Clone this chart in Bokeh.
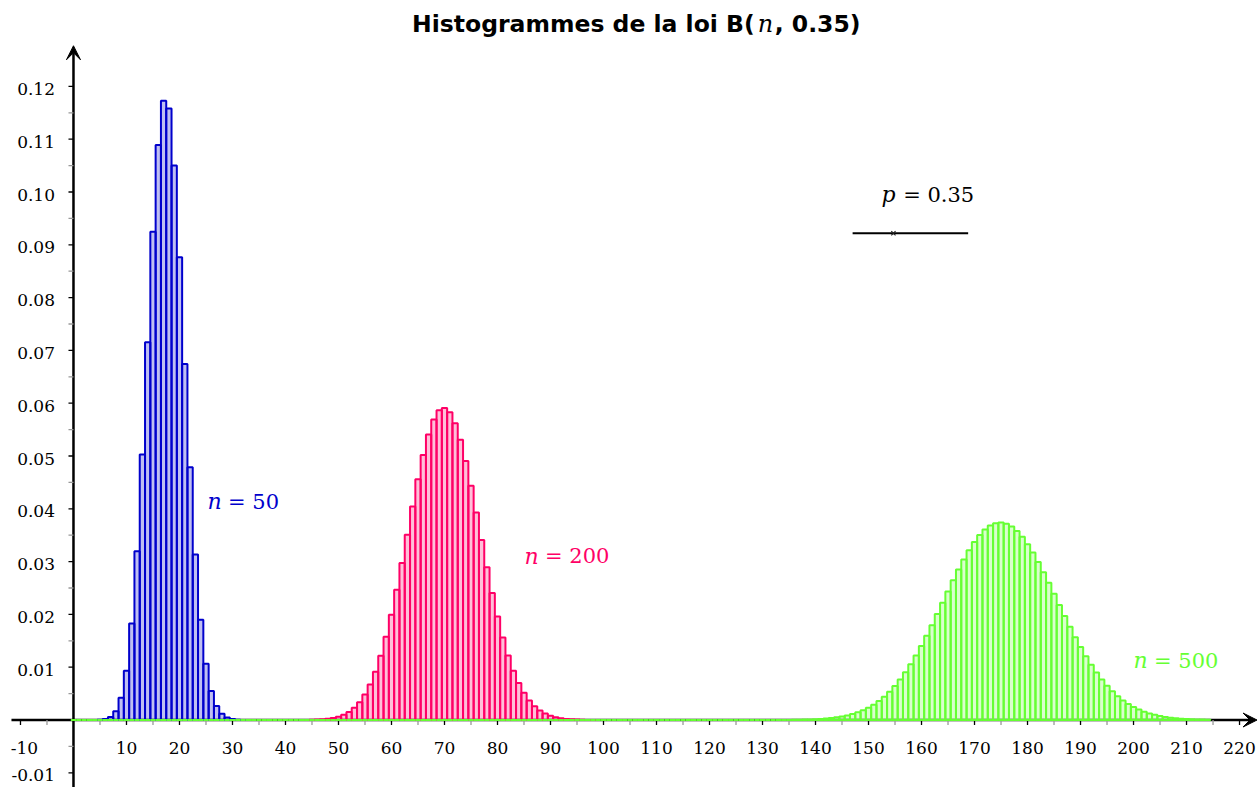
from bokeh.plotting import figure
from bokeh.models import Range1d, Arrow, VeeHead
from bokeh.core.properties import value
from bokeh.embed import file_html
from bokeh.resources import INLINE

# ---- data: P(X = k) for X ~ B(n, 0.35) ----
k50 = list(range(4, 34))
p50 = [0.0000086, 0.0000425, 0.0001716, 0.000581, 0.001681, 0.004223,
       0.009324, 0.01826, 0.03195, 0.05028, 0.07155, 0.09247, 0.10892,
       0.1173, 0.1158, 0.10502, 0.08765, 0.06742, 0.04786, 0.03137,
       0.0190, 0.01064, 0.00551, 0.002637, 0.001166, 0.000476, 0.00018,
       0.0000624, 0.00002, 0.0000059]

k200 = list(range(44, 99))
p200 = [0.0000225, 0.0000421, 0.0000763, 0.000135, 0.000231, 0.000386,
        0.000628, 0.000994, 0.001534, 0.002306, 0.00338, 0.004831,
        0.006735, 0.009162, 0.012163, 0.015763, 0.019946, 0.02465,
        0.029757, 0.035098, 0.040455, 0.045577, 0.050199, 0.054061,
        0.056935, 0.058649, 0.0591, 0.058268, 0.056214, 0.053075,
        0.049047, 0.044369, 0.039294, 0.034073, 0.028932, 0.024058,
        0.019594, 0.01563, 0.012214, 0.00935, 0.007013, 0.005153,
        0.003711, 0.002618, 0.00181, 0.001227, 0.000815, 0.00053,
        0.000338, 0.000212, 0.00013, 0.0000779, 0.0000459, 0.0000265,
        0.000015]

# the n = 500 histogram starts at k = 0 (bars of zero height lie on the axis)
k500 = list(range(0, 215))
p500 = [0.0] * 135 + [
    0.0000263, 0.000038, 0.0000544, 0.000077, 0.000108, 0.00015,
    0.000206, 0.00028, 0.000378, 0.000505, 0.000667, 0.000873,
    0.001132, 0.001454, 0.00185, 0.002331, 0.002909, 0.003597,
    0.004405, 0.005345, 0.006425, 0.007651, 0.009027, 0.010552,
    0.012221, 0.014025, 0.015948, 0.01797, 0.020065, 0.022201,
    0.024344, 0.026453, 0.028488, 0.030406, 0.032164, 0.033721,
    0.035041, 0.036091, 0.036845, 0.037285, 0.0374, 0.037187,
    0.036654, 0.035814, 0.034691, 0.033312, 0.031712, 0.029929,
    0.028004, 0.025979, 0.023894, 0.021789, 0.019701, 0.017662,
    0.015699, 0.013837, 0.012093, 0.01048, 0.009006, 0.007674,
    0.006484, 0.005433, 0.004514, 0.00372, 0.00304, 0.002464,
    0.00198, 0.001578, 0.001247, 0.000978, 0.00076, 0.000586,
    0.000448, 0.00034, 0.000256, 0.000191, 0.000141, 0.000104,
    0.0000755, 0.0000545]

x_ticks = [10, 20, 30, 40, 50, 60, 70, 80, 90, 100, 110, 120, 130,
           140, 150, 160, 170, 180, 190, 200, 210, 220]
x_neg_tick = -10
x_minor = [-5, 5, 15, 25, 35, 45, 55, 65, 75, 85, 95, 105, 115, 125, 135,
           145, 155, 165, 175, 185, 195, 205, 215]
x_labels = [str(t) for t in x_ticks]
y_ticks = [-0.01, 0.01, 0.02, 0.03, 0.04, 0.05, 0.06, 0.07, 0.08, 0.09,
           0.10, 0.11, 0.12]
y_minor = [-0.005, 0.005, 0.015, 0.025, 0.035, 0.045, 0.055, 0.065,
           0.075, 0.085, 0.095, 0.105, 0.115]
y_labels = ["-0.01", "0.01", "0.02", "0.03", "0.04", "0.05", "0.06",
            "0.07", "0.08", "0.09", "0.10", "0.11", "0.12"]

BLUE, PINK, GREEN = "#0000cc", "#ff0066", "#66ff33"
SERIF = value("DejaVu Serif")
SANS = value("DejaVu Sans")

# ---- figure: the frame covers the whole page ----
X_MIN, X_MAX = -13.77, 223.58
Y_MIN, Y_MAX = -0.01278, 0.13627
p = figure(width=1258, height=787,
           x_range=Range1d(X_MIN, X_MAX), y_range=Range1d(Y_MIN, Y_MAX),
           output_backend="svg", toolbar_location=None,
           x_axis_location=None, y_axis_location=None,
           min_border=0, outline_line_color=None,
           background_fill_color="white")
p.grid.visible = False

TX = 5.0 / 5.30      # tick length (5 px) in x units
TY = 5.0 / 5280.0    # tick length (5 px) in y units

# axes with arrow heads
p.add_layout(Arrow(x_start=-11.7, y_start=0, x_end=223.3, y_end=0,
                   line_width=2.5, line_color="black", level="underlay",
                   end=VeeHead(size=14, fill_color="black",
                               line_color="black", line_width=1)))
p.add_layout(Arrow(x_start=0, y_start=Y_MIN, x_end=0, y_end=0.1277,
                   line_width=2.5, line_color="black", level="underlay",
                   end=VeeHead(size=14, fill_color="black",
                               line_color="black", line_width=1)))

# tick marks
all_x_major = [x_neg_tick] + x_ticks
p.segment(x0=x_minor, y0=[0] * len(x_minor), x1=x_minor,
          y1=[-TY] * len(x_minor), line_color="#999999", line_width=1.3)
p.segment(x0=all_x_major, y0=[0] * len(all_x_major), x1=all_x_major,
          y1=[-TY] * len(all_x_major), line_color="black", line_width=1.3)
p.segment(x0=[0] * len(y_minor), y0=y_minor, x1=[-TX] * len(y_minor),
          y1=y_minor, line_color="#999999", line_width=1.3)
p.segment(x0=[0] * len(y_ticks), y0=y_ticks, x1=[-TX] * len(y_ticks),
          y1=y_ticks, line_color="black", line_width=1.3)

# tick labels
TICK_FONT = "17px"
p.text(x=x_ticks, y=[0] * len(x_ticks), text=x_labels, text_font=SERIF,
       text_font_size=TICK_FONT, text_color="black", text_align="center",
       text_baseline="alphabetic", y_offset=27.5)
p.text(x=[x_neg_tick], y=[0], text=[str(x_neg_tick)], text_font=SERIF,
       text_font_size=TICK_FONT, text_color="black", text_align="center",
       text_baseline="alphabetic", y_offset=27.5, x_offset=4)
p.text(x=[0] * len(y_ticks), y=y_ticks, text=y_labels, text_font=SERIF,
       text_font_size=TICK_FONT, text_color="black", text_align="right",
       text_baseline="alphabetic", x_offset=-18.5, y_offset=2.5)

# histograms
for ks, ps, col in ((k50, p50, BLUE), (k200, p200, PINK), (k500, p500, GREEN)):
    p.vbar(x=ks, width=1, bottom=0, top=ps, fill_color=col, fill_alpha=0.25,
           line_color=col, line_width=2)

# curve labels: italic n followed by "= value"
for lx, ly, txt, col in ((25.3, 0.04019, "= 50", BLUE),
                         (85.1, 0.02989, "= 200", PINK),
                         (200.0, 0.01013, "= 500", GREEN)):
    p.text(x=[lx], y=[ly], text=["n"], text_font=SERIF,
           text_font_style="italic", text_font_size="22px", text_color=col,
           text_align="left", text_baseline="alphabetic", y_offset=-6)
    p.text(x=[lx], y=[ly], text=[txt], text_font=SERIF,
           text_font_size="21px", text_color=col, text_align="left",
           text_baseline="alphabetic", x_offset=20.5, y_offset=-6)

# slider for p
p.text(x=[152.45], y=[0.09839], text=["p"], text_font=SERIF,
       text_font_style="italic", text_font_size="22px", text_color="black",
       text_align="left", text_baseline="alphabetic", y_offset=-6)
p.text(x=[152.45], y=[0.09839], text=["= 0.35"], text_font=SERIF,
       text_font_size="21px", text_color="black", text_align="left",
       text_baseline="alphabetic", x_offset=21.7, y_offset=-6)
p.segment(x0=[147.0], y0=[0.0922], x1=[168.8], y1=[0.0922],
          line_color="black", line_width=2)
p.scatter(x=[154.7], y=[0.0922], marker="x", size=6, line_color="#222222",
          line_width=1.2)

# title
TXA, TYA = 128.9, 0.13068
p.text(x=[TXA], y=[TYA], text=["Histogrammes de la loi B("], text_font=SANS,
       text_font_style="bold", text_font_size="23.5px", text_color="black",
       text_align="right", text_baseline="alphabetic", x_offset=-2,
       y_offset=-6)
p.text(x=[TXA], y=[TYA], text=["n"], text_font=SERIF,
       text_font_style="italic", text_font_size="24px", text_color="black",
       text_align="left", text_baseline="alphabetic", x_offset=1,
       y_offset=-6)
p.text(x=[TXA], y=[TYA], text=[", 0.35)"], text_font=SANS,
       text_font_style="bold", text_font_size="23.5px", text_color="black",
       text_align="left", text_baseline="alphabetic", x_offset=18,
       y_offset=-6)

open("out.html", "w").write(file_html(p, INLINE))
